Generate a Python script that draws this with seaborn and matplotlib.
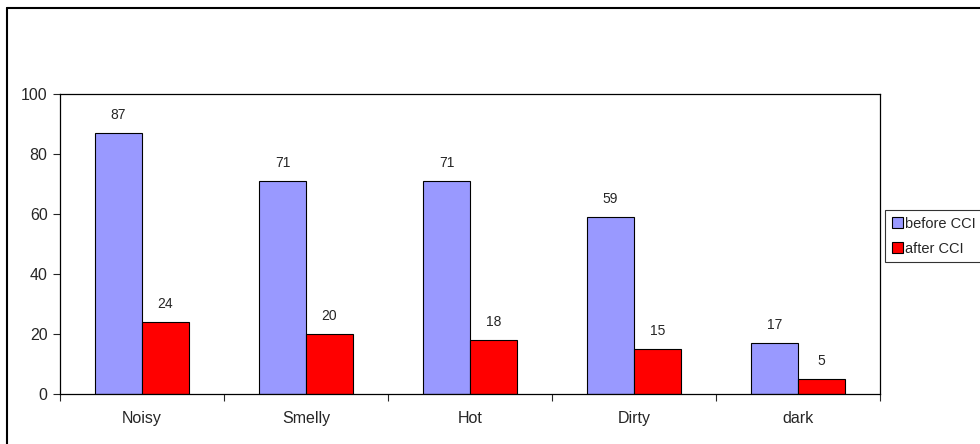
import pandas as pd
import numpy as np
import matplotlib
matplotlib.use("Agg")
import matplotlib.pyplot as plt
from matplotlib.lines import Line2D
import seaborn as sns

# Values
categories = ['Noisy', 'Smelly', 'Hot', 'Dirty', 'dark']
before_cci = [87, 71, 71, 59, 17]
after_cci = [24, 20, 18, 15, 5]
series_names = ['before CCI', 'after CCI']
colors = ['#9999FF', '#FF0000']

df = pd.DataFrame({
    'Category': categories * 2,
    'Series': [series_names[0]] * len(categories) + [series_names[1]] * len(categories),
    'Value': before_cci + after_cci,
})

sns.set_style("white")
plt.rcParams['font.family'] = ['Liberation Sans', 'DejaVu Sans']

fig = plt.figure(figsize=(9.8, 4.44), dpi=100)
ax = fig.add_axes([60 / 980, 50 / 444, 820 / 980, 300 / 444])

sns.barplot(data=df, x='Category', y='Value', hue='Series', order=categories,
            hue_order=series_names, palette=colors, width=0.573,
            edgecolor='black', linewidth=0.8, saturation=1, ax=ax, legend=False)

for cont in ax.containers:
    ax.bar_label(cont, padding=8, fontsize=10)

ax.set_ylim(0, 100)
ax.set_yticks(range(0, 101, 20))
ax.set_xlim(-0.5, len(categories) - 0.5)
ax.set_xlabel('')
ax.set_ylabel('')
for s in ax.spines.values():
    s.set_color('black')
    s.set_linewidth(0.9)
ax.tick_params(axis='y', direction='out', length=5, width=0.8, labelsize=11.5, left=True, pad=4)
ax.tick_params(axis='x', which='major', length=0, labelsize=11.5, pad=12)
ax.set_xticks(np.arange(-0.5, len(categories), 1), minor=True)
ax.tick_params(axis='x', which='minor', direction='out', length=5, width=0.8, bottom=True)

# legend outside at right, running up to the figure edge like the original
handles = [plt.Rectangle((0, 0), 1, 1, facecolor=c, edgecolor='black', linewidth=0.8) for c in colors]
leg = fig.legend(handles, series_names, loc='upper left', bbox_to_anchor=(885 / 980, 1 - 210 / 444),
                 fontsize=10.5, frameon=True, fancybox=False, handlelength=0.8, handleheight=0.8,
                 handletextpad=0.15, borderpad=0.45, labelspacing=0.75, borderaxespad=0)
leg.get_frame().set_edgecolor('black')
leg.get_frame().set_linewidth(0.8)

# outer chart border (left and top visible)
fig.add_artist(Line2D([7 / 980, 7 / 980], [0, 1 - 8 / 444], color='black', linewidth=1.5))
fig.add_artist(Line2D([7 / 980, 1], [1 - 8 / 444, 1 - 8 / 444], color='black', linewidth=1.5))

fig.savefig('out.png', dpi=100)
